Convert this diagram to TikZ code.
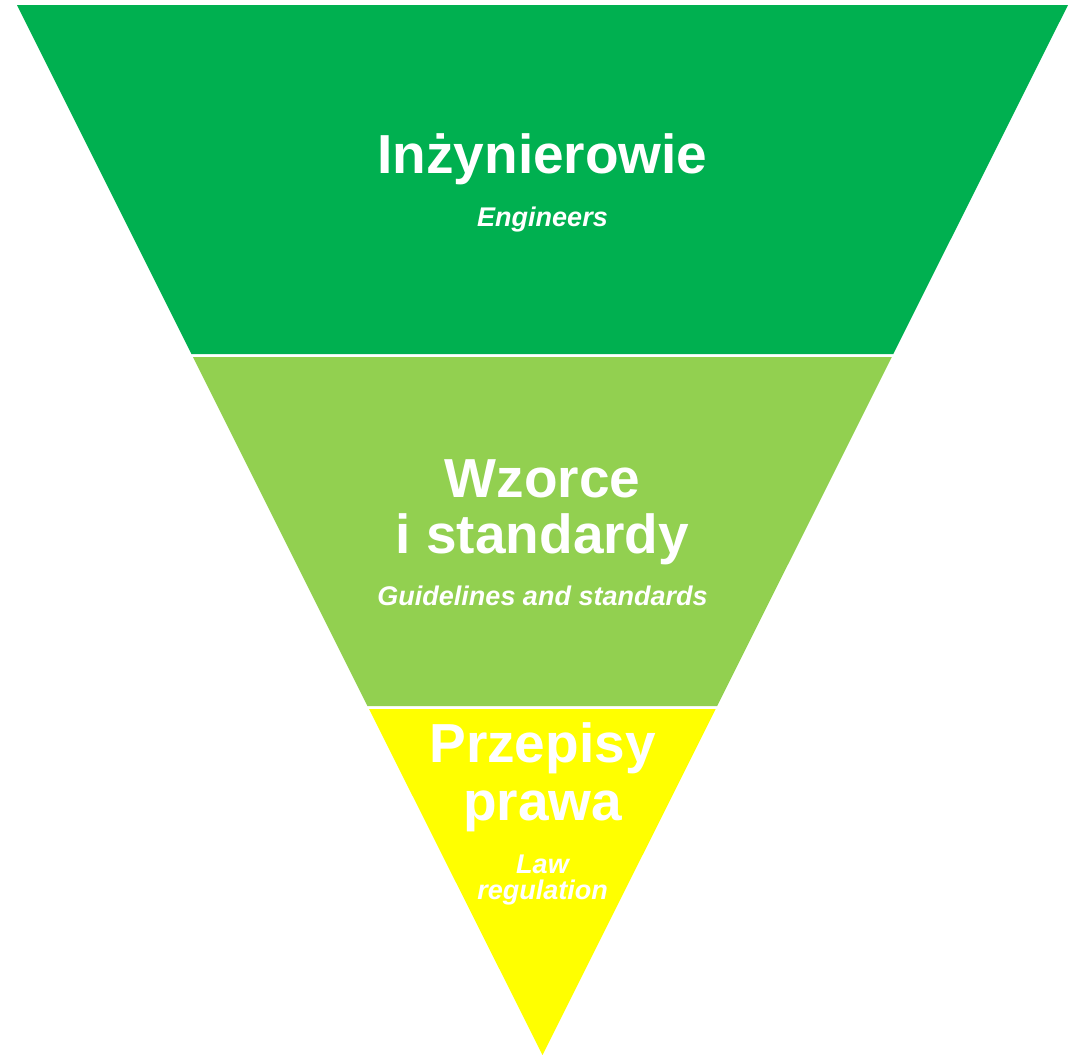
\documentclass[tikz,border=0pt]{standalone}
\usepackage{fontspec}
\setmainfont{Liberation Sans}
\definecolor{gtop}{HTML}{00B050}
\definecolor{gmid}{HTML}{92D050}
\definecolor{ybot}{HTML}{FFFF00}
\tikzset{
  title/.style={text=white, font=\fontsize{55}{57}\selectfont\bfseries, align=center, anchor=base, inner sep=0pt},
  sub/.style={text=white, font=\fontsize{27}{29}\selectfont\bfseries\itshape, align=center, anchor=base, inner sep=0pt},
  gap/.style={draw=white, line width=3pt}
}
\begin{document}
\begin{tikzpicture}[x=1pt,y=-1pt]
\useasboundingbox (0,0) rectangle (1080,1055);
% bands
\fill[gtop] (17,5) -- (1068,5) -- (893.3,354) -- (191.5,354) -- cycle;
\fill[gmid] (193,357) -- (891.8,357) -- (717.2,706) -- (367.5,706) -- cycle;
\fill[ybot] (369,709) -- (715.7,709) -- (542.5,1055) -- cycle;
% texts
\node[title] (t1) at (542.5,173) {Inżynierowie};
\node[sub] (s1) at (542.5,226) {Engineers};
\node[title] (t2a) at (542.5,497) {Wzorce};
\node[title] (t2b) at (542.5,553) {i standardy};
\node[sub] (s2) at (542.5,605) {Guidelines and standards};
\node[title] (t3a) at (542.5,762) {Przepisy};
\node[title] (t3b) at (542.5,820) {prawa};
\node[sub] (s3a) at (542.5,873) {Law};
\node[sub] (s3b) at (542.5,899) {regulation};
\end{tikzpicture}
\end{document}
